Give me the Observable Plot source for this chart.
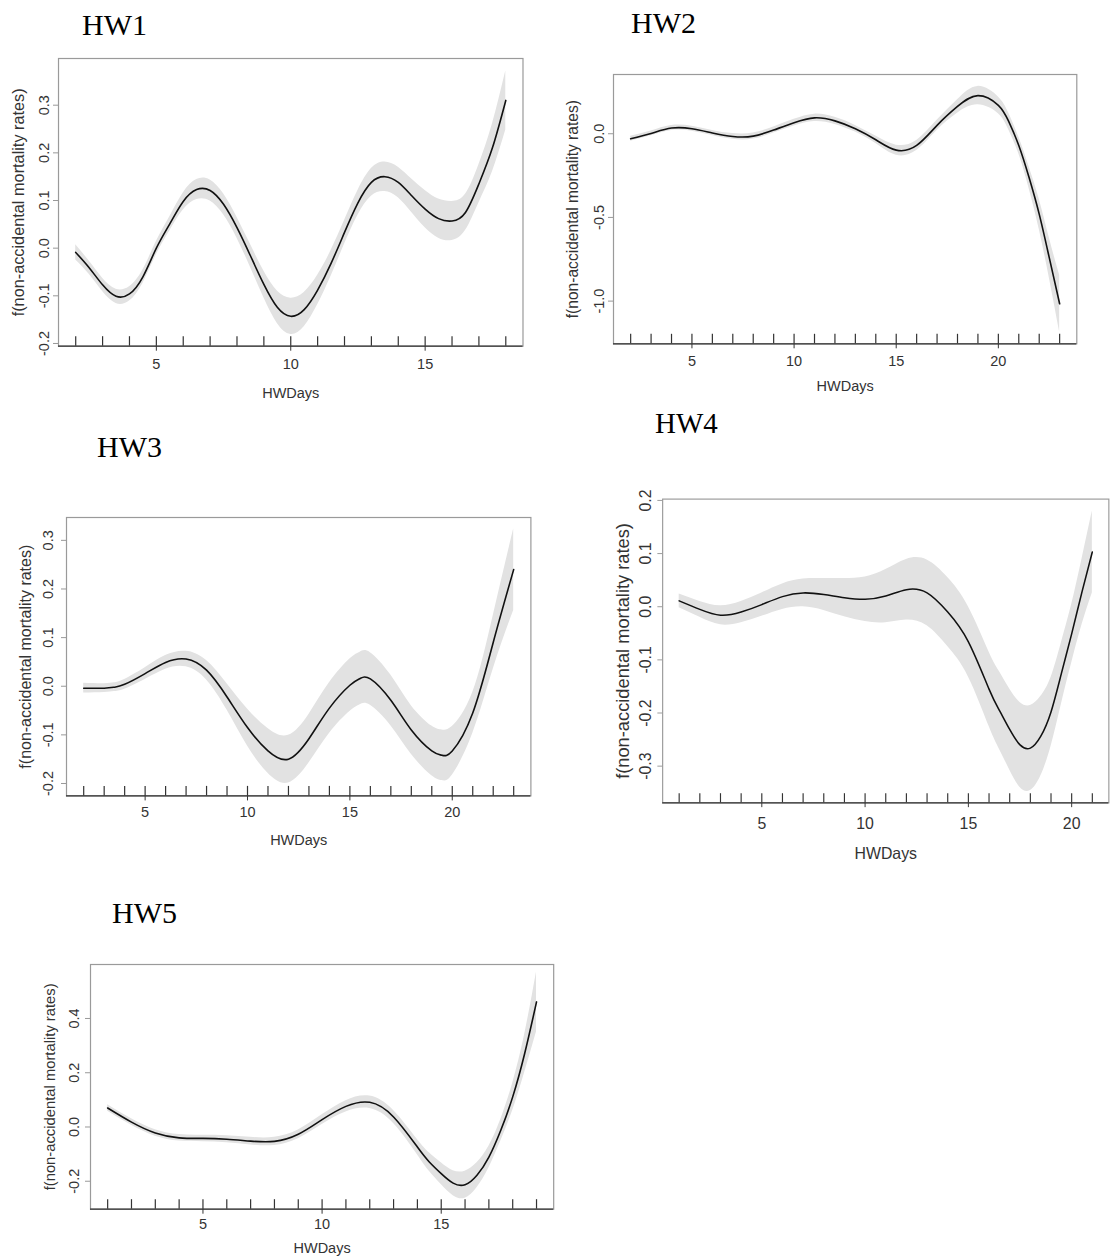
<!DOCTYPE html>
<html><head><meta charset="utf-8">
<script src="https://cdn.jsdelivr.net/npm/d3@7"></script>
<script src="https://cdn.jsdelivr.net/npm/@observablehq/plot@0.6"></script>
<style>
html,body{margin:0;padding:0;background:#fff;overflow:hidden;}
#page{position:relative;width:1118px;height:1256px;overflow:hidden;background:#fff;}
.panel{position:absolute;}
.title{position:absolute;font-family:"Liberation Serif","Times New Roman",serif;color:#000;line-height:1;white-space:nowrap;}
</style></head><body><div id="page"></div>
<script>
// ---------- data ----------
const panelNames = ["HW1","HW2","HW3","HW4","HW5"];
const yLabel = "f(non-accidental mortality rates)";
const xLabel = "HWDays";

const hw1Days = [2,2.5,3,3.5,4,4.5,5,5.5,6,6.5,7,7.5,8,8.5,9,9.5,10,10.5,11,11.5,12,12.5,13,13.5,14,14.5,15,15.5,16,16.5,17,17.5,18];
const hw1Fit  = [-0.009,-0.041,-0.077,-0.101,-0.096,-0.06,0.0,0.051,0.098,0.123,0.121,0.092,0.043,-0.016,-0.076,-0.124,-0.143,-0.129,-0.088,-0.032,0.033,0.095,0.138,0.15,0.138,0.11,0.082,0.062,0.057,0.075,0.135,0.21,0.31];
const hw1Half = [0.016,0.014,0.014,0.015,0.015,0.014,0.014,0.015,0.018,0.021,0.022,0.022,0.022,0.024,0.028,0.034,0.038,0.036,0.031,0.027,0.025,0.026,0.029,0.031,0.032,0.035,0.039,0.041,0.041,0.038,0.04,0.05,0.062];
const hw1Rug = [2,3,4,5,6,7,8,9,10,11,12,13,14,15,16,17,18];

const hw2Days = [2,3,4,5,6,7,8,9,10,11,12,13,14,15,16,17,18,19,20,20.5,21,21.5,22,22.5,23];
const hw2Fit  = [-0.03,0.002,0.034,0.03,0.005,-0.016,-0.014,0.022,0.066,0.095,0.077,0.03,-0.036,-0.098,-0.07,0.05,0.163,0.228,0.17,0.075,-0.07,-0.26,-0.48,-0.745,-1.016];
const hw2Half = [0.015,0.014,0.015,0.015,0.015,0.017,0.018,0.018,0.02,0.022,0.021,0.02,0.022,0.03,0.03,0.03,0.04,0.055,0.05,0.05,0.05,0.065,0.09,0.12,0.17];
const hw2Rug = [2,3,4,5,6,7,8,9,10,11,12,13,14,15,16,17,18,19,20,21,22,23];

const hw3Days = [2,3,3.5,4,5,6,7,8,9,10,11,12,13,14,15,15.5,16,17,18,19,19.5,20,21,22,23];
const hw3Fit  = [-0.004,-0.004,-0.002,0.004,0.026,0.049,0.056,0.033,-0.022,-0.085,-0.133,-0.15,-0.108,-0.045,0.002,0.016,0.015,-0.029,-0.09,-0.133,-0.142,-0.133,-0.055,0.09,0.24];
const hw3Half = [0.01,0.009,0.009,0.01,0.012,0.014,0.016,0.02,0.027,0.038,0.046,0.049,0.05,0.052,0.054,0.054,0.054,0.052,0.05,0.051,0.052,0.05,0.042,0.055,0.084];
const hw3Rug = [2,3,4,5,6,7,8,9,10,11,12,13,14,15,16,17,18,19,20,21,22,23];

const hw4Days = [1,2,3,4,5,6,7,8,9,10,11,12,13,14,15,16,16.5,17,17.5,18,18.5,19,19.5,20,20.5,21];
const hw4Fit  = [0.011,-0.005,-0.016,-0.01,0.004,0.019,0.026,0.023,0.017,0.014,0.02,0.032,0.026,-0.01,-0.066,-0.155,-0.195,-0.231,-0.26,-0.266,-0.244,-0.198,-0.126,-0.051,0.028,0.103];
const hw4Half = [0.013,0.015,0.018,0.02,0.022,0.024,0.026,0.03,0.036,0.042,0.05,0.057,0.062,0.065,0.066,0.07,0.073,0.076,0.08,0.08,0.075,0.065,0.058,0.055,0.062,0.077];
const hw4Rug = [1,2,3,4,5,6,7,8,9,10,11,12,13,14,15,16,17,18,19,20,21];

const hw5Days = [1,2,3,4,5,6,7,8,9,10,11,12,13,14,14.5,15,15.5,16,16.5,17,17.5,18,18.5,19];
const hw5Fit  = [0.07,0.018,-0.022,-0.04,-0.042,-0.045,-0.052,-0.053,-0.027,0.027,0.076,0.091,0.037,-0.074,-0.129,-0.172,-0.207,-0.213,-0.178,-0.111,-0.012,0.111,0.27,0.461];
const hw5Half = [0.012,0.012,0.012,0.012,0.012,0.013,0.014,0.015,0.016,0.018,0.021,0.023,0.024,0.028,0.034,0.04,0.046,0.05,0.046,0.04,0.04,0.05,0.07,0.11];
const hw5Rug = [1,2,3,4,5,6,7,8,9,10,11,12,13,14,15,16,17,18,19];

const xTicksA = [5,10,15];
const xTicksB = [5,10,15,20];
const yTicks1 = [-0.2,-0.1,0.0,0.1,0.2,0.3];
const yTicks2 = [-1.0,-0.5,0.0];
const yTicks3 = [-0.2,-0.1,0.0,0.1,0.2,0.3];
const yTicks4 = [-0.3,-0.2,-0.1,0.0,0.1,0.2];
const yTicks5 = [-0.2,0.0,0.2,0.4];

// ---------- layout (positions / styles) ----------
const panels = [
  {name:panelNames[0], days:hw1Days, fit:hw1Fit, half:hw1Half, rug:hw1Rug, xTicks:xTicksA, yTicks:yTicks1,
   xDomain:[1.36,18.64], yDomain:[-0.2057,0.398],
   left:58, right:522.5, top:58.3, bottom:346, titleX:82, titleBase:35, titleFs:30,
   fs:14.5, ylabFs:16.3, xTickPad:8, xLabDy:47, yTickPad:5, yLabDx:40},
  {name:panelNames[1], days:hw2Days, fit:hw2Fit, half:hw2Half, rug:hw2Rug, xTicks:xTicksB, yTicks:yTicks2,
   xDomain:[1.16,23.84], yDomain:[-1.255,0.354],
   left:612.6, right:1075.9, top:74, bottom:343.3, titleX:631, titleBase:33.3, titleFs:30,
   fs:14.5, ylabFs:15.6, xTickPad:7, xLabDy:43, yTickPad:5, yLabDx:40.6},
  {name:panelNames[2], days:hw3Days, fit:hw3Fit, half:hw3Half, rug:hw3Rug, xTicks:xTicksB, yTicks:yTicks3,
   xDomain:[1.16,23.84], yDomain:[-0.2255,0.347],
   left:66, right:530.4, top:517.3, bottom:795.7, titleX:97, titleBase:456.7, titleFs:30,
   fs:14.5, ylabFs:16, xTickPad:6, xLabDy:44, yTickPad:9, yLabDx:41},
  {name:panelNames[3], days:hw4Days, fit:hw4Fit, half:hw4Half, rug:hw4Rug, xTicks:xTicksB, yTicks:yTicks4,
   xDomain:[0.2,21.8], yDomain:[-0.369,0.2025],
   left:665, right:1128.8, top:499.3, bottom:815, titleX:655, titleBase:433.3, titleFs:29,
   fs:16.5, ylabFs:19, xTickPad:11, xLabDy:53, yTickPad:7, yLabDx:41},
  {name:panelNames[4], days:hw5Days, fit:hw5Fit, half:hw5Half, rug:hw5Rug, xTicks:xTicksA, yTicks:yTicks5,
   xDomain:[0.28,19.72], yDomain:[-0.303,0.599],
   left:90.4, right:553.6, top:964.3, bottom:1209, titleX:112, titleBase:923.3, titleFs:30,
   fs:14.5, ylabFs:14.8, xTickPad:5, xLabDy:39, yTickPad:7, yLabDx:40}
];

const page = document.getElementById("page");
const mL = 75, mR = 10, mT = 10, mB = 70;

for (const p of panels) {
  const fw = p.right - p.left, fh = p.bottom - p.top;
  const rows = p.days.map((d, i) => ({x: d, y: p.fit[i], lo: p.fit[i] - p.half[i], hi: p.fit[i] + p.half[i]}));
  const chart = Plot.plot({
    width: fw + mL + mR,
    height: fh + mT + mB,
    marginLeft: mL, marginRight: mR, marginTop: mT, marginBottom: mB,
    style: {fontFamily: '"Liberation Sans", Arial, Helvetica, sans-serif', fontSize: p.fs + "px", color: "#333", background: "transparent", overflow: "visible"},
    x: {domain: p.xDomain},
    y: {domain: p.yDomain},
    marks: [
      Plot.areaY(rows, {x: "x", y1: "lo", y2: "hi", fill: "#e2e2e2", curve: "natural"}),
      Plot.line(rows, {x: "x", y: "y", stroke: "#111", strokeWidth: 1.6, curve: "natural"}),
      Plot.frame({stroke: "#9a9a9a", strokeWidth: 1.2}),
      Plot.ruleY([p.yDomain[0]], {stroke: "#333", strokeWidth: 1.3}),
      Plot.ruleX(p.rug, {stroke: "#333", strokeWidth: 1.2, insetTop: fh - 9.5}),
      Plot.axisX({ticks: p.xTicks, tickSize: 5, tickPadding: p.xTickPad, label: null, stroke: "#333", fontSize: p.fs, tickFormat: d => String(d)}),
      Plot.axisY({ticks: p.yTicks, tickSize: 5, tickPadding: p.yTickPad, tickRotate: -90, label: null, stroke: "#999", fontSize: p.fs, tickFormat: d => d.toFixed(1)}),
      Plot.text([yLabel], {text: d => d, frameAnchor: "left", textAnchor: "middle", lineAnchor: "middle", rotate: -90, dx: -p.yLabDx, fontSize: p.ylabFs, fill: "#333"}),
      Plot.text([xLabel], {text: d => d, frameAnchor: "bottom", textAnchor: "middle", lineAnchor: "middle", dy: p.xLabDy, fontSize: p.fs, fill: "#333"})
    ]
  });
  const wrap = document.createElement("div");
  wrap.className = "panel";
  wrap.style.left = (p.left - mL) + "px";
  wrap.style.top = (p.top - mT) + "px";
  wrap.appendChild(chart);
  page.appendChild(wrap);

  const t = document.createElement("div");
  t.className = "title";
  t.textContent = p.name;
  t.style.fontSize = p.titleFs + "px";
  t.style.left = p.titleX + "px";
  t.style.top = (p.titleBase - p.titleFs * 0.837) + "px";
  page.appendChild(t);
}
</script>
</body></html>
